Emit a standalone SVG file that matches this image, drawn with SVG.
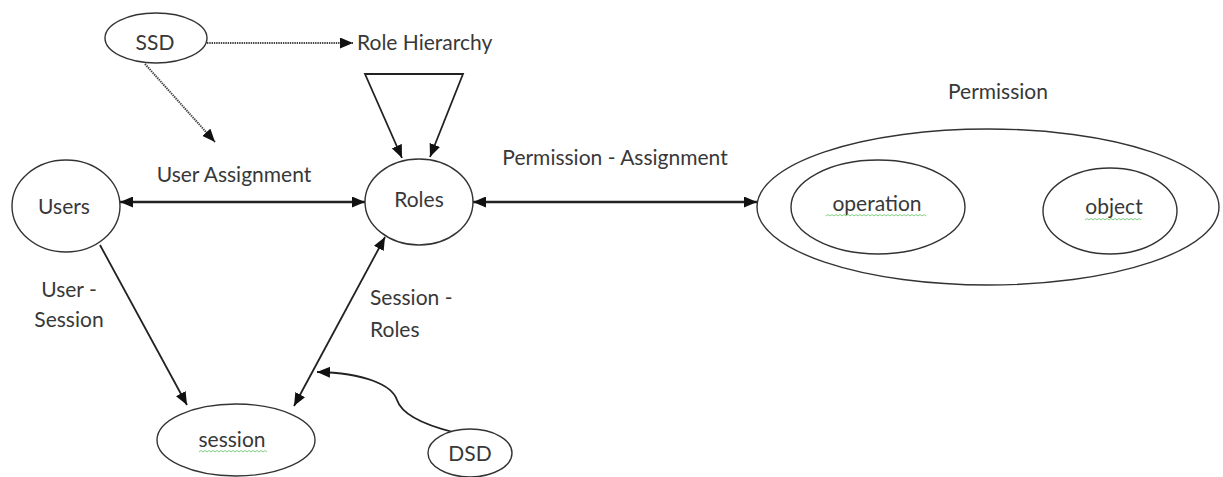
<svg xmlns="http://www.w3.org/2000/svg" width="1223" height="477" viewBox="0 0 1223 477">
  <style>
    .shape { fill: #fff; stroke: #333; stroke-width: 1.4; }
    .label { font-family: Lato, "Liberation Sans", sans-serif; font-size: 21px; fill: #383838; }
    .mid { text-anchor: middle; }
    .edge { fill: none; stroke: #222; stroke-width: 1.8; }
    .thick { stroke-width: 2.4; }
    .dotted { fill: none; stroke: #444; stroke-width: 2; stroke-dasharray: 1.4 0.9; }
    .squiggle { fill: none; stroke: #7fcf7f; stroke-width: 1; }
  </style>
  <defs>
    <marker id="arrow" viewBox="0 0 13 11" refX="13" refY="5.5" markerWidth="13" markerHeight="11" markerUnits="userSpaceOnUse" orient="auto-start-reverse">
      <path d="M0,0 L13,5.5 L0,11 Z" fill="#111"/>
    </marker>
  </defs>
  <rect width="1223" height="477" fill="#fff"/>

  <!-- connectors -->
  <g id="connectors">
    <path class="dotted" d="M207,43 L353,43" marker-end="url(#arrow)"/>
    <path class="dotted" d="M145,64 L215,142" marker-end="url(#arrow)"/>
    <path class="edge" d="M402,158 L365,74 L463,74 L430,157" marker-start="url(#arrow)" marker-end="url(#arrow)"/>
    <path class="edge thick" d="M120,202 L365,202" marker-start="url(#arrow)" marker-end="url(#arrow)"/>
    <path class="edge thick" d="M473,202 L757,202" marker-start="url(#arrow)" marker-end="url(#arrow)"/>
    <path class="edge thick" d="M966,202 L1043,202" marker-start="url(#arrow)" marker-end="url(#arrow)"/>
    <path class="edge" d="M100,245 L187,405" marker-end="url(#arrow)"/>
    <path class="edge" d="M294,406 L385,237" marker-start="url(#arrow)" marker-end="url(#arrow)"/>
    <path class="edge" d="M453,432 C425,425 402,415 397,400 C392,385 365,373 317,372" marker-end="url(#arrow)"/>
  </g>

  <!-- edge labels -->
  <g id="edge-labels" class="label">
    <text x="357" y="50">Role Hierarchy</text>
    <text class="mid" x="234" y="182">User Assignment</text>
    <text class="mid" x="615" y="165">Permission - Assignment</text>
    <text class="mid" x="69" y="297">User -</text>
    <text class="mid" x="69" y="327">Session</text>
    <text x="370" y="305">Session -</text>
    <text x="370" y="337">Roles</text>
  </g>

  <g id="ssd">
    <ellipse class="shape" cx="156" cy="38" rx="51" ry="25"/>
    <text class="label mid" x="155" y="50">SSD</text>
  </g>

  <g id="users">
    <ellipse class="shape" cx="66" cy="206" rx="54" ry="46"/>
    <text class="label mid" x="64" y="214">Users</text>
  </g>

  <g id="roles">
    <ellipse class="shape" cx="419" cy="202" rx="54" ry="43"/>
    <text class="label mid" x="419" y="207">Roles</text>
  </g>

  <g id="permission">
    <ellipse class="shape" cx="988" cy="207" rx="231" ry="78"/>
    <text class="label mid" x="998" y="99">Permission</text>
  </g>

  <g id="operation">
    <ellipse class="shape" cx="878" cy="207" rx="87" ry="47"/>
    <text class="label mid" x="877" y="211">operation</text>
    <path class="squiggle" d="M826,216 l2,-1.5 l2,1.5 l2,-1.5 l2,1.5 l2,-1.5 l2,1.5 l2,-1.5 l2,1.5 l2,-1.5 l2,1.5 l2,-1.5 l2,1.5 l2,-1.5 l2,1.5 l2,-1.5 l2,1.5 l2,-1.5 l2,1.5 l2,-1.5 l2,1.5 l2,-1.5 l2,1.5 l2,-1.5 l2,1.5 l2,-1.5 l2,1.5 l2,-1.5 l2,1.5 l2,-1.5 l2,1.5 l2,-1.5 l2,1.5 l2,-1.5 l2,1.5 l2,-1.5 l2,1.5 l2,-1.5 l2,1.5 l2,-1.5 l2,1.5 l2,-1.5 l2,1.5 l2,-1.5 l2,1.5 l2,-1.5 l2,1.5 l2,-1.5 l2,1.5 l2,-1.5 l2,1.5"/>
  </g>

  <g id="object">
    <ellipse class="shape" cx="1110" cy="211" rx="67" ry="43"/>
    <text class="label mid" x="1114" y="214">object</text>
    <path class="squiggle" d="M1085,220 l2,-1.5 l2,1.5 l2,-1.5 l2,1.5 l2,-1.5 l2,1.5 l2,-1.5 l2,1.5 l2,-1.5 l2,1.5 l2,-1.5 l2,1.5 l2,-1.5 l2,1.5 l2,-1.5 l2,1.5 l2,-1.5 l2,1.5 l2,-1.5 l2,1.5 l2,-1.5 l2,1.5 l2,-1.5 l2,1.5 l2,-1.5 l2,1.5 l2,-1.5 l2,1.5"/>
  </g>

  <g id="session">
    <ellipse class="shape" cx="236" cy="440" rx="79" ry="36"/>
    <text class="label mid" x="232" y="447">session</text>
    <path class="squiggle" d="M199,452 l2,-1.5 l2,1.5 l2,-1.5 l2,1.5 l2,-1.5 l2,1.5 l2,-1.5 l2,1.5 l2,-1.5 l2,1.5 l2,-1.5 l2,1.5 l2,-1.5 l2,1.5 l2,-1.5 l2,1.5 l2,-1.5 l2,1.5 l2,-1.5 l2,1.5 l2,-1.5 l2,1.5 l2,-1.5 l2,1.5 l2,-1.5 l2,1.5 l2,-1.5 l2,1.5 l2,-1.5 l2,1.5 l2,-1.5 l2,1.5 l2,-1.5 l2,1.5"/>
  </g>

  <g id="dsd">
    <ellipse class="shape" cx="470" cy="453" rx="42" ry="24"/>
    <text class="label mid" x="470" y="461">DSD</text>
  </g>
</svg>
